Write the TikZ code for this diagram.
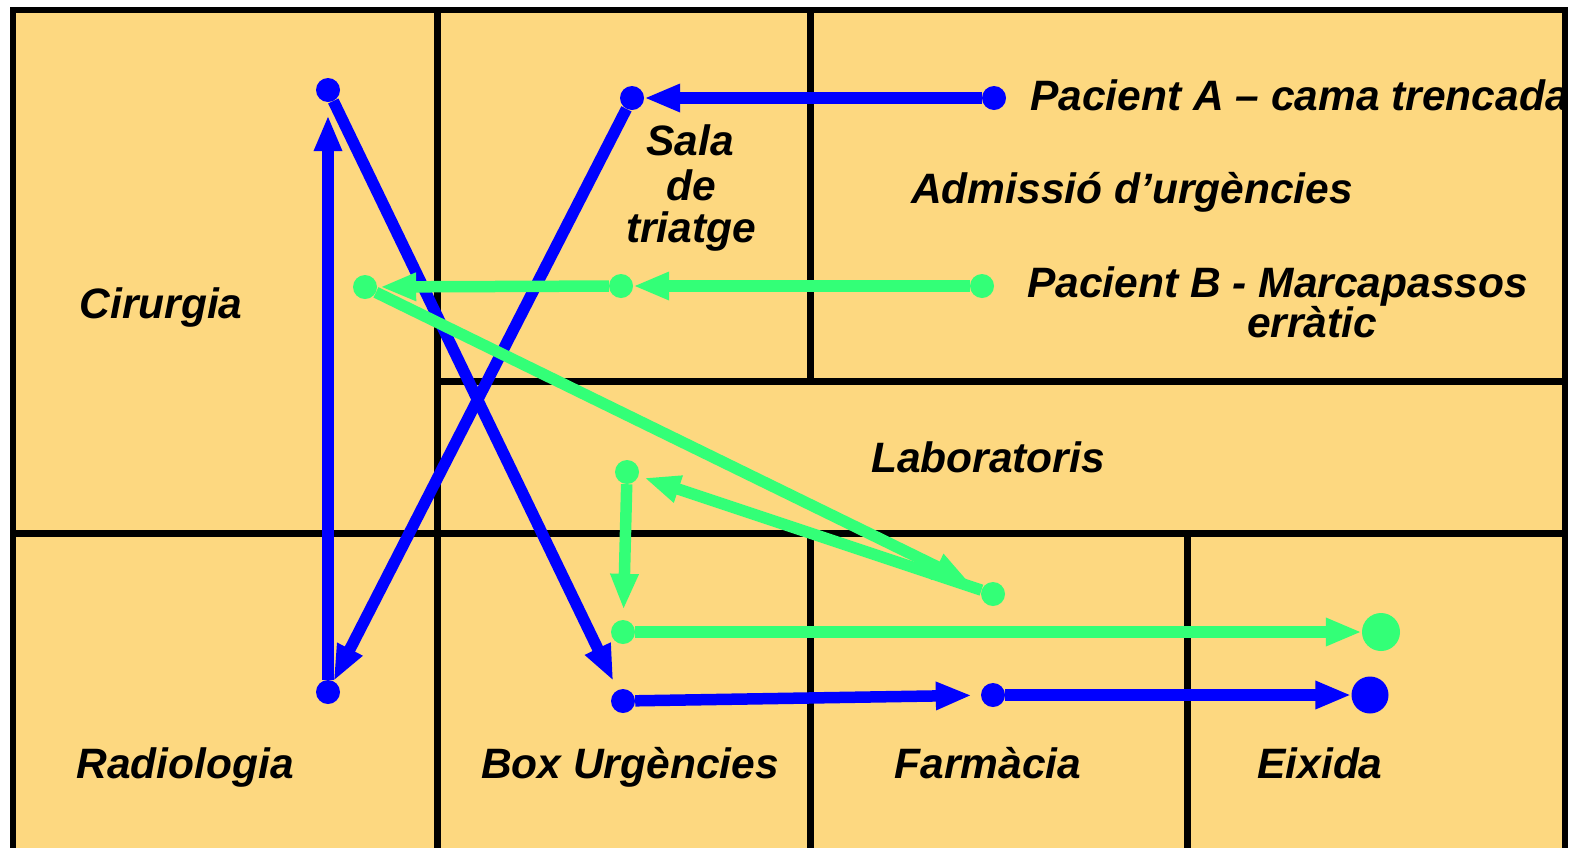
\documentclass[tikz,border=0pt]{standalone}
\usepackage{fontspec}
\setmainfont{Liberation Sans}
\usetikzlibrary{arrows.meta}
\definecolor{roomfill}{RGB}{253,216,128}
\definecolor{pathA}{RGB}{0,0,255}
\definecolor{pathB}{RGB}{51,255,119}
\begin{document}
\begin{tikzpicture}[x=1pt,y=-1pt,
  wall/.style={line width=7pt},
  outerwall/.style={line width=5.5pt},
  lbl/.style={font=\fontsize{42.5}{50}\selectfont\bfseries\itshape, inner sep=0pt},
  adot/.style={circle,fill=pathA,inner sep=0pt,minimum size=24pt},
  bdot/.style={circle,fill=pathB,inner sep=0pt,minimum size=24pt},
  aline/.style={draw=pathA,line width=11.5pt,-{Triangle[length=36pt,width=26pt]}},
  bline/.style={draw=pathB,line width=11.5pt,-{Triangle[length=36pt,width=26pt]}},
]
\useasboundingbox (0,0) rectangle (1576,847);
\clip (0,0) rectangle (1576,847);
% rooms
\fill[roomfill] (13,10) rectangle (1565,880);
\draw[outerwall] (13,880) -- (13,10) -- (1565,10) -- (1565,880);
\draw[wall] (437,10) -- (437,880);
\draw[wall] (810,10) -- (810,381);
\draw[wall] (437,381) -- (1565,381);
\draw[wall] (13,533) -- (1565,533);
\draw[wall] (810,533) -- (810,880);
\draw[wall] (1187,533) -- (1187,880);
% labels
\node[lbl, anchor=base west] (tA) at (1030,110) {Pacient A – cama trencada};
\node[lbl, anchor=base] (tAdm) at (1132,203) {Admissió d’urgències};
\node[lbl, anchor=base] (tSala1) at (690,155) {Sala};
\node[lbl, anchor=base] (tSala2) at (691,200) {de};
\node[lbl, anchor=base] (tSala3) at (691,242) {triatge};
\node[lbl, anchor=base west] (tB1) at (1027,297) {Pacient B - Marcapassos};
\node[lbl, anchor=base] (tB2) at (1312,337) {erràtic};
\node[lbl, anchor=base] (tCir) at (161,318) {Cirurgia};
\node[lbl, anchor=base] (tLab) at (988,472) {Laboratoris};
\node[lbl, anchor=base] (tRad) at (185,778) {Radiologia};
\node[lbl, anchor=base] (tBox) at (630,778) {Box Urgències};
\node[lbl, anchor=base] (tFar) at (988,778) {Farmàcia};
\node[lbl, anchor=base] (tEix) at (1320,778) {Eixida};
% patient A dots
\node[adot] (pA) at (994,98) {};
\node[adot] (sA) at (632,98) {};
\node[adot] (rA) at (328,692) {};
\node[adot] (cA) at (328,90) {};
\node[adot] (bA) at (623,701) {};
\node[adot] (fA) at (993,695) {};
\node[adot, minimum size=37pt] (eA) at (1370,695) {};
% patient B dots
\node[bdot] (pB) at (982,286) {};
\node[bdot] (sB) at (621,286) {};
\node[bdot] (cB) at (365,287) {};
\node[bdot] (fB) at (993,594) {};
\node[bdot] (lB) at (627,472) {};
\node[bdot] (bB) at (623,632) {};
\node[bdot, minimum size=38pt] (eB) at (1381,632) {};
% patient A path
\draw[aline] (pA) -- (sA);
\draw[aline] (sA) -- (rA);
\draw[aline, shorten >=13pt] (rA) -- (cA);
\draw[aline, shorten >=10pt] (cA) -- (bA);
\draw[aline, shorten >=9pt] (bA) -- (fA);
\draw[aline] (fA) -- (eA);
% patient B path
\draw[bline] (pB) -- (sB);
\draw[bline, shorten >=3pt] (sB) -- (cB);
\draw[bline, shorten >=14pt] (cB) -- (fB);
\draw[bline, shorten >=6pt] (fB) -- (lB);
\draw[bline, shorten >=10pt] (lB) -- (bB);
\draw[bline] (bB) -- (eB);
\end{tikzpicture}
\end{document}
